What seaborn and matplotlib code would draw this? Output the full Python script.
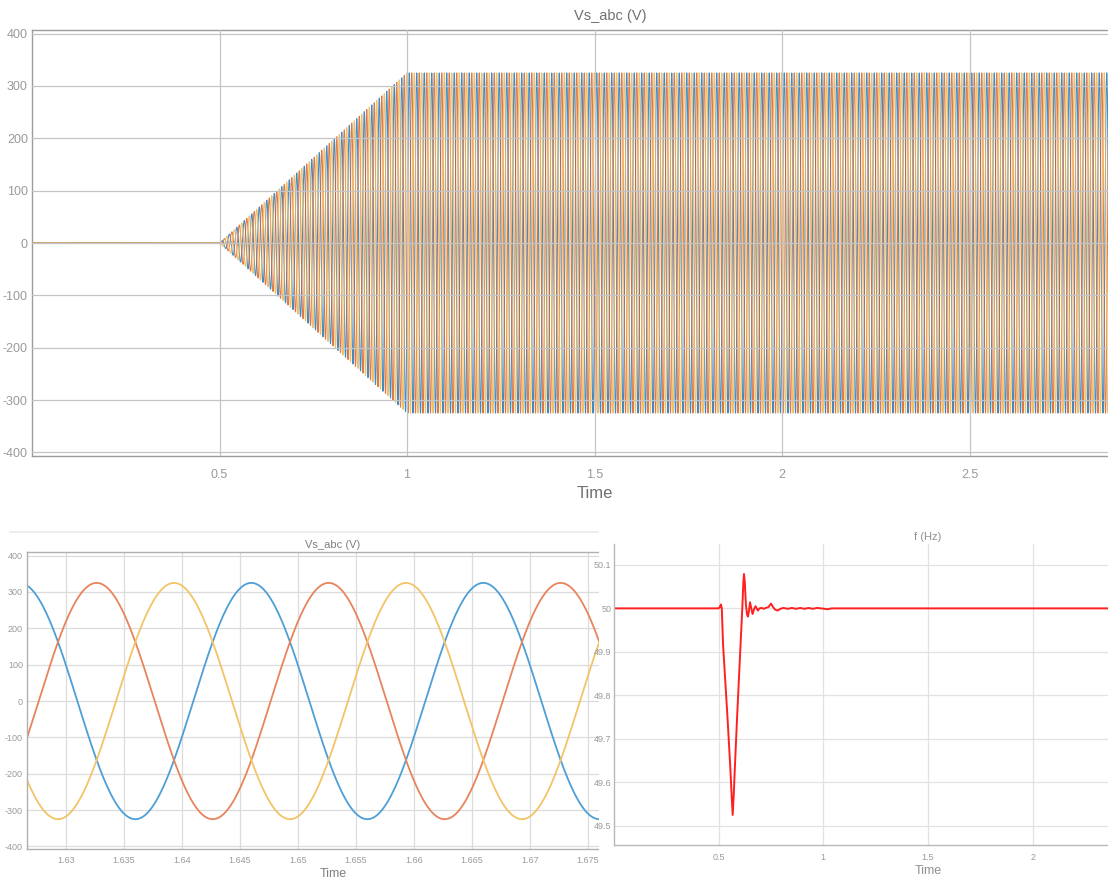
import numpy as np
import pandas as pd
import matplotlib
matplotlib.use("Agg")
import matplotlib.pyplot as plt
from matplotlib.lines import Line2D
import seaborn as sns

# ---- source parameters (three-phase grid voltage, soft-start ramp) ----
AMPLITUDE_V = 325.0          # phase peak voltage
FREQ_HZ = 50.0               # grid frequency
PHASE_A_DEG = -18.0          # phase-a angle offset
PHASE_SHIFT_DEG = [0.0, -120.0, 120.0]   # a, b, c
PHASE_NAMES = ["a", "b", "c"]
RAMP_START_S = 0.5           # ramp-up begins
RAMP_END_S = 1.0             # full amplitude reached
SIM_END_S = 3.0
SAMPLE_STEP_S = 1e-4

# zoomed window of the steady-state voltages
ZOOM_START_S = 1.62666
ZOOM_END_S = 1.67942

# measured grid frequency (PLL output), time [s] / value [Hz]
freq_time = [0.0, 0.500, 0.505, 0.511, 0.515, 0.521, 0.532, 0.543, 0.555, 0.562,
             0.567, 0.572, 0.578, 0.5875, 0.597, 0.607, 0.613, 0.618, 0.621, 0.625,
             0.630, 0.636, 0.640, 0.645, 0.650, 0.656, 0.662, 0.669, 0.676, 0.682,
             0.688, 0.695, 0.705, 0.715, 0.725, 0.738, 0.750, 0.760, 0.770, 0.782,
             0.795, 0.810, 0.830, 0.850, 0.870, 0.890, 0.910, 0.930, 0.950, 0.970,
             0.990, 1.020, 1.040, 3.0]
freq_value = [50.0, 50.0, 50.003, 50.009, 50.0, 49.917, 49.83, 49.743, 49.64, 49.57,
              49.525, 49.57, 49.64, 49.743, 49.84, 49.94, 50.0, 50.06, 50.079, 50.06,
              50.01, 49.985, 49.981, 49.995, 50.014, 50.0, 49.987, 49.998, 50.005, 50.0,
              49.995, 50.0, 50.001, 49.999, 50.001, 50.003, 50.011, 50.003, 49.997, 49.995,
              49.999, 50.001, 49.999, 50.001, 49.999, 50.001, 49.999, 50.001, 49.999, 50.001,
              50.0, 49.998, 50.0, 50.0]

PHASE_COLORS = ["#1f77b8", "#d9622a", "#eeb54e"]
PHASE_COLORS_LIGHT = ["#4d9fd6", "#e8845c", "#f3c467"]
FREQ_COLOR = "#ff2020"


def phase_voltages(t):
    """Three-phase voltages with a linear amplitude ramp."""
    env = np.clip((t - RAMP_START_S) / (RAMP_END_S - RAMP_START_S), 0.0, 1.0) * AMPLITUDE_V
    w = 2 * np.pi * FREQ_HZ
    out = {}
    for name, shift in zip(PHASE_NAMES, PHASE_SHIFT_DEG):
        out[name] = env * np.sin(w * t + np.deg2rad(PHASE_A_DEG + shift))
    return out


sns.set_theme(style="white")
plt.rcParams["font.family"] = ["Liberation Sans Narrow", "Liberation Sans", "DejaVu Sans"]
plt.rcParams["axes.unicode_minus"] = False

W, H = 1108, 881
fig = plt.figure(figsize=(W / 100, H / 100), dpi=100)
fig.patch.set_facecolor("white")


def fig_rect(x0, y_top, x1, y_bot):
    return [x0 / W, (H - y_bot) / H, (x1 - x0) / W, (y_bot - y_top) / H]


def style_scope(ax, tick_size, grid_color, spine_color, tick_len, xpad, ypad):
    for side in ["top", "right", "bottom", "left"]:
        ax.spines[side].set_color(spine_color)
        ax.spines[side].set_linewidth(1.0)
    ax.grid(True, color=grid_color, linewidth=0.9)
    ax.tick_params(axis="both", direction="in", colors="#9a9a9a", labelcolor="#9a9a9a",
                   labelsize=tick_size, length=tick_len, width=0.9)
    ax.tick_params(axis="x", pad=xpad)
    ax.tick_params(axis="y", pad=ypad)
    ax.set_facecolor("white")


# ---------------- top: full simulation ----------------
t_full = np.arange(0.0, SIM_END_S + SAMPLE_STEP_S / 2, SAMPLE_STEP_S)
v_full = phase_voltages(t_full)
df_full = pd.DataFrame({"Time": t_full, **v_full})

ax_top = fig.add_axes(fig_rect(32, 30, 32 + 375 * SIM_END_S, 456))
for name, col in zip(PHASE_NAMES, PHASE_COLORS):
    sns.lineplot(data=df_full, x="Time", y=name, ax=ax_top, color=col, linewidth=0.75,
                 estimator=None, sort=False, errorbar=None, alpha=0.85)
ax_top.set_xlim(0, SIM_END_S)
ax_top.set_ylim(-407, 407)
ax_top.set_xticks([0.5, 1, 1.5, 2, 2.5])
ax_top.set_xticklabels(["0.5", "1", "1.5", "2", "2.5"])
ax_top.set_yticks(np.arange(-400, 401, 100))
style_scope(ax_top, 9, "#c4c4c4", "#9c9c9c", 8, 9, 3)
ax_top.set_axisbelow(False)
ax_top.set_xlabel("Time", fontsize=12, color="#707070", labelpad=4)
ax_top.set_ylabel("")
ax_top.set_title("Vs_abc (V)", fontsize=10.5, color="#707070", pad=7, x=0.514)

# ---------------- bottom-left: zoomed window ----------------
t_zoom = np.linspace(ZOOM_START_S, ZOOM_END_S, 2000)
v_zoom = phase_voltages(t_zoom)
df_zoom = pd.DataFrame({"Time": t_zoom, **v_zoom})

ax_bl = fig.add_axes(fig_rect(27, 552, 639, 849))
for name, col in zip(PHASE_NAMES, PHASE_COLORS_LIGHT):
    sns.lineplot(data=df_zoom, x="Time", y=name, ax=ax_bl, color=col, linewidth=1.3,
                 estimator=None, sort=False, errorbar=None)
ax_bl.set_xlim(ZOOM_START_S, ZOOM_END_S)
ax_bl.set_ylim(-407, 410)
ax_bl.set_xticks([1.63, 1.635, 1.64, 1.645, 1.65, 1.655, 1.66, 1.665, 1.67, 1.675])
ax_bl.set_xticklabels(["1.63", "1.635", "1.64", "1.645", "1.65", "1.655", "1.66",
                       "1.665", "1.67", "1.675"])
ax_bl.set_yticks(np.arange(-400, 401, 100))
style_scope(ax_bl, 6.5, "#dcdcdc", "#b0b0b0", 0, 5, 3)
ax_bl.set_xlabel("Time", fontsize=9, color="#808080", labelpad=2)
ax_bl.set_ylabel("")
ax_bl.set_title("Vs_abc (V)", fontsize=8, color="#808080", pad=3)

# thin toolbar divider above the zoomed scope
fig.add_artist(Line2D([10 / W, 598 / W], [(H - 532) / H] * 2, color="#ededed", lw=1.5))

# blank backdrop for the frequency scope
ax_cover = fig.add_axes(fig_rect(599, 512, W, H))
ax_cover.set_facecolor("white")
ax_cover.set_xticks([])
ax_cover.set_yticks([])
for s in ax_cover.spines.values():
    s.set_visible(False)
ax_cover.set_zorder(5)

# ---------------- bottom-right: frequency ----------------
df_freq = pd.DataFrame({"Time": freq_time, "f": freq_value})
ax_br = fig.add_axes(fig_rect(614, 544, 614 + 209.3 * SIM_END_S, 845))
ax_br.set_zorder(6)
sns.lineplot(data=df_freq, x="Time", y="f", ax=ax_br, color=FREQ_COLOR, linewidth=1.4,
             estimator=None, sort=False, errorbar=None)
ax_br.set_xlim(0, SIM_END_S)
ax_br.set_ylim(49.456, 50.148)
ax_br.set_xticks([0.5, 1, 1.5, 2])
ax_br.set_xticklabels(["0.5", "1", "1.5", "2"])
ax_br.set_yticks([49.5, 49.6, 49.7, 49.8, 49.9, 50.0, 50.1])
ax_br.set_yticklabels(["49.5", "49.6", "49.7", "49.8", "49.9", "50", "50.1"])
style_scope(ax_br, 6.5, "#e2e2e2", "#b8b8b8", 6, 6, 2)
ax_br.spines["top"].set_visible(False)
ax_br.set_xlabel("Time", fontsize=9, color="#909090", labelpad=2)
ax_br.set_ylabel("")
ax_br.set_title("f (Hz)", fontsize=8, color="#909090", pad=3)

fig.savefig("out.png", dpi=100, facecolor="white")
